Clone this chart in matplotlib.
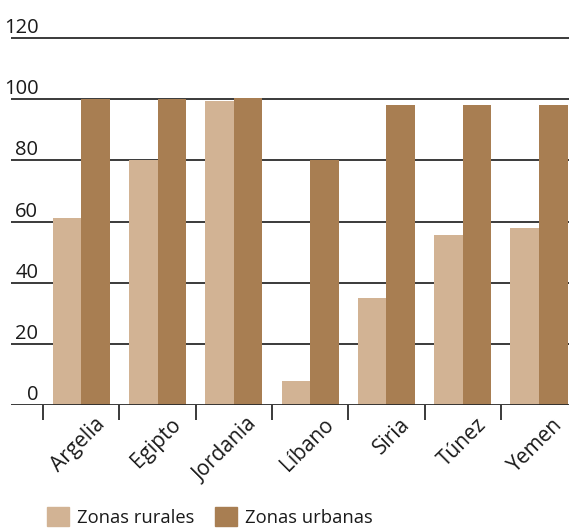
import matplotlib
matplotlib.use("Agg")
import matplotlib.pyplot as plt
import matplotlib.transforms as mtransforms
from matplotlib.patches import Patch
import numpy as np

plt.rcParams['font.family'] = ['Open Sans', 'DejaVu Sans']

paises = ["Argelia", "Egipto", "Jordania", "Líbano", "Siria", "Túnez", "Yemen"]
rurales = [61, 80, 99.5, 8, 35, 55.5, 58]
urbanas = [100, 100, 100.5, 80, 98, 98, 98]
yticks = [0, 20, 40, 60, 80, 100, 120]
series_labels = ["Zonas rurales", "Zonas urbanas"]

c_rural = "#d2b394"
c_urban = "#a87e52"
c_line = "#2b2b2b"

fig = plt.figure(figsize=(5.69, 5.29), dpi=100)
ax = fig.add_axes([11/569, 1-405/529, 558/569, (405-35)/529])

x = np.arange(len(paises))
w = 0.375
ax.bar(x - w/2, rurales, w, color=c_rural, zorder=2)
ax.bar(x + w/2, urbanas, w, color=c_urban, zorder=2)

ax.set_xlim(-0.921, 6.392)
ax.set_ylim(0, 121)

# horizontal grid lines, value sits just above each line
for v in yticks:
    ax.axhline(v, color=c_line, lw=1.3, zorder=1 if v else 3)
    ax.annotate(str(v), xy=(0.049, v), xycoords=('axes fraction', 'data'),
                xytext=(0, 3.6), textcoords='offset points',
                ha='right', va='baseline', fontsize=14.5, color='#1a1a1a')

for s in ax.spines.values():
    s.set_visible(False)
ax.set_yticks([])

# category labels at group centres, ticks at group boundaries
ax.set_xticks(x)
ax.set_xticklabels(paises, rotation=45, ha='right', va='top',
                   rotation_mode='anchor', fontsize=15, color='#1a1a1a')
ax.tick_params(axis='x', which='major', length=0, pad=0)
offset = mtransforms.ScaledTranslation(0.13, -0.09, fig.dpi_scale_trans)
for lbl in ax.get_xticklabels():
    lbl.set_transform(lbl.get_transform() + offset)
ax.set_xticks(np.arange(-0.5, len(paises) - 1, 1.0), minor=True)
ax.tick_params(axis='x', which='minor', length=10.8, width=1.3,
               color=c_line, direction='out')

handles = [Patch(color=c_rural), Patch(color=c_urban)]
fig.legend(handles, series_labels, loc='center left',
           bbox_to_anchor=(47/569, 1-517/529), ncol=2, frameon=False,
           fontsize=13.2, handlelength=1.2, handleheight=1.2,
           handletextpad=0.45, columnspacing=1.1, borderpad=0,
           borderaxespad=0, labelcolor='#1a1a1a')

fig.savefig("out.png", dpi=100)
